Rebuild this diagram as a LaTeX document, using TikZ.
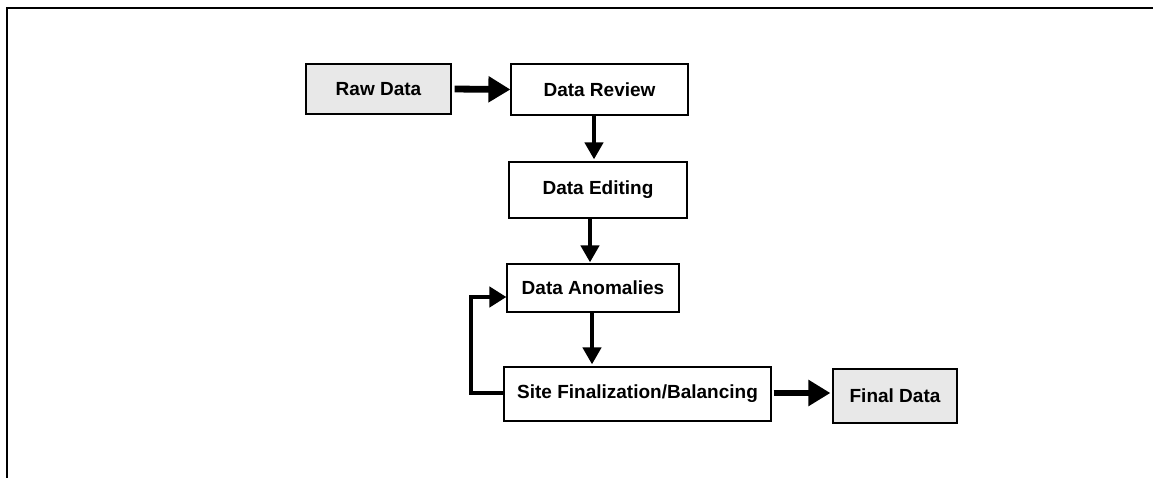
\documentclass[tikz,border=0pt]{standalone}
\usepackage{fontspec}
\setmainfont{Liberation Sans}
\usetikzlibrary{arrows.meta}
\definecolor{boxgray}{RGB}{232,232,232}
\tikzset{
  box/.style={draw=black, line width=1.2pt, fill=white, inner sep=0pt,
    font=\fontsize{19}{23}\selectfont\bfseries},
  graybox/.style={box, fill=boxgray},
  thinarrow/.style={line width=4.5pt, -{Triangle[length=17pt,width=18pt]}},
  thickarrow/.style={line width=6.8pt, -{Triangle[length=22pt,width=25pt]}},
  frameline/.style={line width=2.5pt}
}
\begin{document}
\begin{tikzpicture}[x=1pt,y=-1pt]
\useasboundingbox (0,0) rectangle (1153,478);
\coordinate (fbl) at (7,478);
\coordinate (ftl) at (7,8);
\coordinate (ftr) at (1153,8);
\draw[frameline] (fbl) -- (ftl) -- (ftr);

\node[graybox, minimum width=145pt, minimum height=50pt] (raw) at (378.5,89) {Raw Data};
\node[box, minimum width=177pt, minimum height=51pt] (review) at (599.5,89.5) {Data Review};
\node[box, minimum width=178pt, minimum height=56pt] (editing) at (598,190) {Data Editing};
\node[box, minimum width=172pt, minimum height=48pt] (anom) at (593,288) {Data Anomalies};
\node[box, minimum width=267pt, minimum height=54pt] (site) at (637.5,394) {Site Finalization/Balancing};
\node[graybox, minimum width=124pt, minimum height=54pt] (final) at (895,396) {Final Data};

\draw[thickarrow, shorten <=3pt] (raw.east) -- (review.west);
\draw[thinarrow, shorten >=2pt] (review.south -| 594,0) -- (editing.north -| 594,0);
\draw[thinarrow, shorten >=1pt] (editing.south -| 590,0) -- (anom.north -| 590,0);
\draw[thinarrow, shorten >=2pt] (anom.south -| 592,0) -- (site.north -| 592,0);
\draw[thickarrow, shorten <=2pt, shorten >=2pt] (site.east |- 0,393) -- (final.west |- 0,393);
\draw[thinarrow, -{Triangle[length=17pt,width=20pt]}] (site.west |- 0,393) -- (471,393) |- ([yshift=-9pt]anom.west);
\end{tikzpicture}
\end{document}
